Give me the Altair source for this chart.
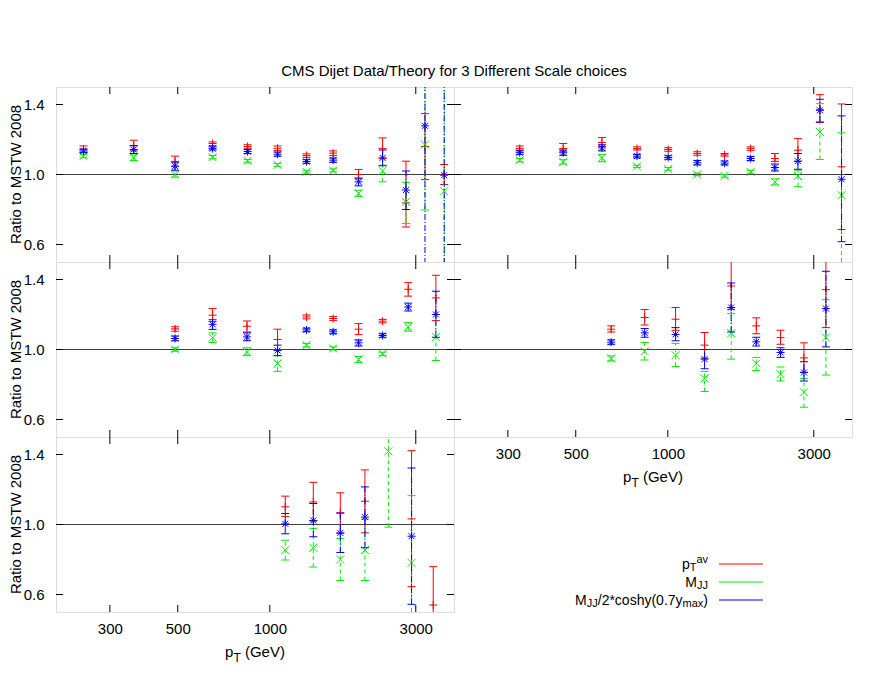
import altair as alt
import pandas as pd

FONT = "Liberation Sans"
W, H = 398, 175

TITLE = "CMS Dijet Data/Theory for 3 Different Scale choices"
Y_TITLE = "Ratio to MSTW 2008"
X_TICKS = [300, 500, 1000, 3000]
Y_TICKS = [0.6, 1.0, 1.4]
X_DOMAIN = [200, 4000]
Y_DOMAIN = [0.5, 1.5]

RED, GREEN, BLUE = "#ff0000", "#00ee00", "#0000ff"

# (value, low, high) per point; None = no point
TL_PT = [246, 359, 490, 650, 846, 1060, 1318, 1611, 1950, 2337, 2787, 3215, 3716]
TL_RED = [(1.145, 1.128, 1.163), (1.165, 1.135, 1.196), (1.075, 1.045, 1.105), (1.177, 1.165, 1.186),
          (1.160, 1.150, 1.170), (1.150, 1.138, 1.163), (1.108, 1.098, 1.118), (1.122, 1.108, 1.135),
          (1.000, 0.975, 1.029), (1.148, 1.090, 1.209), (0.838, 0.700, 1.076), (1.160, 0.971, 1.348),
          (1.000, 0.943, 1.057)]
TL_GREEN = [(1.105, 1.095, 1.115), (1.097, 1.080, 1.112), (1.000, 0.985, 1.020), (1.099, 1.090, 1.108),
            (1.078, 1.070, 1.086), (1.055, 1.047, 1.063), (1.015, 1.008, 1.022), (1.023, 1.015, 1.032),
            (0.892, 0.875, 0.910), (1.021, 0.958, 1.053), (0.844, 0.720, 0.955), (1.171, 0.797, 1.700),
            (0.905, 0.300, 1.700)]
TL_BLUE = [(1.135, 1.125, 1.145), (1.143, 1.120, 1.165), (1.048, 1.025, 1.070), (1.148, 1.140, 1.158),
           (1.131, 1.120, 1.142), (1.116, 1.105, 1.128), (1.074, 1.064, 1.085), (1.082, 1.070, 1.094),
           (0.958, 0.935, 0.980), (1.095, 1.050, 1.140), (0.911, 0.800, 1.020), (1.278, 0.300, 1.700),
           (0.996, 0.300, 1.700)]

TR_PT = [328, 455, 609, 793, 1003, 1248, 1533, 1865, 2239, 2663, 3141, 3697]
TR_RED = [(1.148, 1.138, 1.163), (1.148, 1.130, 1.177), (1.183, 1.160, 1.211), (1.148, 1.140, 1.158),
          (1.143, 1.133, 1.153), (1.120, 1.110, 1.130), (1.112, 1.105, 1.120), (1.148, 1.138, 1.158),
          (1.091, 1.075, 1.120), (1.139, 1.075, 1.205), (1.370, 1.297, 1.456), (1.044, 0.686, 1.403)]
TR_GREEN = [(1.082, 1.072, 1.092), (1.072, 1.060, 1.085), (1.095, 1.073, 1.115), (1.046, 1.040, 1.053),
            (1.032, 1.025, 1.040), (1.000, 0.993, 1.008), (0.992, 0.985, 1.000), (1.015, 1.007, 1.024),
            (0.958, 0.940, 0.975), (0.992, 0.930, 1.025), (1.243, 1.086, 1.405), (0.882, 0.300, 1.238)]
TR_BLUE = [(1.125, 1.115, 1.135), (1.124, 1.110, 1.140), (1.152, 1.135, 1.170), (1.105, 1.095, 1.115),
           (1.097, 1.087, 1.107), (1.067, 1.055, 1.080), (1.065, 1.055, 1.077), (1.091, 1.080, 1.102),
           (1.040, 1.020, 1.060), (1.076, 1.030, 1.120), (1.367, 1.300, 1.430), (0.973, 0.616, 1.335)]

ML_PT = [490, 650, 842, 1060, 1318, 1611, 1950, 2337, 2834, 3490]
ML_RED = [(1.118, 1.105, 1.130), (1.196, 1.160, 1.234), (1.133, 1.100, 1.163), (1.057, 1.000, 1.116),
          (1.186, 1.175, 1.197), (1.177, 1.165, 1.188), (1.116, 1.085, 1.148), (1.162, 1.152, 1.172),
          (1.344, 1.305, 1.382), (1.295, 1.165, 1.424)]
ML_GREEN = [(1.000, 0.990, 1.010), (1.067, 1.040, 1.095), (0.987, 0.965, 1.010), (0.920, 0.875, 0.965),
            (1.025, 1.015, 1.035), (1.006, 0.997, 1.015), (0.943, 0.925, 0.960), (0.975, 0.965, 0.985),
            (1.129, 1.105, 1.155), (1.072, 0.937, 1.200)]
ML_BLUE = [(1.063, 1.050, 1.077), (1.144, 1.115, 1.170), (1.072, 1.050, 1.095), (0.994, 0.965, 1.025),
           (1.112, 1.102, 1.122), (1.101, 1.090, 1.112), (1.038, 1.020, 1.055), (1.080, 1.070, 1.090),
           (1.243, 1.220, 1.265), (1.200, 1.070, 1.333)]

MR_PT = [653, 840, 1060, 1319, 1611, 1946, 2336, 2786, 3287]
MR_RED = [(1.116, 1.100, 1.135), (1.183, 1.140, 1.228), (1.173, 1.110, 1.240), (1.025, 0.950, 1.097),
          (1.363, 1.230, 1.600), (1.135, 1.090, 1.181), (1.068, 1.030, 1.110), (0.952, 0.870, 1.038),
          (1.342, 1.125, 1.600)]
MR_GREEN = [(0.949, 0.935, 0.963), (0.990, 0.940, 1.040), (0.968, 0.903, 1.035), (0.835, 0.760, 0.875),
            (1.093, 0.945, 1.205), (0.920, 0.880, 0.955), (0.859, 0.820, 0.900), (0.755, 0.670, 0.835),
            (1.068, 0.854, 1.285)]
MR_BLUE = [(1.042, 1.030, 1.055), (1.095, 1.070, 1.120), (1.086, 1.050, 1.125), (0.945, 0.890, 1.000),
           (1.240, 1.100, 1.380), (1.044, 1.020, 1.070), (0.983, 0.955, 1.010), (0.869, 0.820, 0.930),
           (1.234, 1.015, 1.447)]

BL_PT = [1123, 1387, 1700, 2046, 2440, 2906, 3421]
BL_RED = [(1.101, 1.046, 1.162), (1.129, 1.020, 1.241), (1.067, 0.950, 1.181), (1.133, 0.952, 1.312),
          None, (1.032, 0.645, 1.422), (0.540, 0.300, 0.759)]
BL_GREEN = [(0.854, 0.797, 0.910), (0.867, 0.757, 0.978), (0.800, 0.680, 0.920), (0.854, 0.680, 1.030),
            (1.418, 0.985, 1.700), (0.781, 0.300, 1.165), None]
BL_BLUE = [(1.004, 0.947, 1.063), (1.023, 0.930, 1.120), (0.952, 0.840, 1.065), (1.042, 0.867, 1.215),
           None, (0.933, 0.544, 1.323), None]

SHAPE_PLUS = "M-1,0L1,0M0,-1L0,1"
SHAPE_X = "M-1,-1L1,1M-1,1L1,-1"
SHAPE_STAR = "M-1,0L1,0M0,-1L0,1M-0.75,-0.75L0.75,0.75M-0.75,0.75L0.75,-0.75"
SHAPE_CAP = "M-1,0L1,0"

# Arial/Liberation Sans advance widths (per 1000 em) for rich text layout
ADV = {'p': 556, 'T': 611, 'a': 556, 'v': 500, 'M': 833, 'J': 500, '/': 278, '2': 556, '*': 389,
       'c': 500, 'o': 556, 's': 500, 'h': 556, 'y': 500, '(': 333, '0': 556, '.': 278, '7': 556,
       'm': 833, 'x': 500, ')': 333, ' ': 278, 'G': 778, 'e': 556, 'V': 667}


def tw(s, size):
    return sum(ADV.get(c, 556) for c in s) / 1000.0 * size


def rich(pieces, x_left, y_base):
    layers = []
    x = x_left
    for txt, size, dy in pieces:
        lead = len(txt) - len(txt.lstrip(" "))
        shown = txt.lstrip(" ")
        layers.append(
            alt.Chart(pd.DataFrame({"t": [shown]}))
            .mark_text(align="left", baseline="alphabetic", fontSize=size, font=FONT, color="black", dy=dy)
            .encode(text="t:N", x=alt.value(x + tw(" " * lead, size)), y=alt.value(y_base))
        )
        x += tw(txt, size)
    return layers


def total(pieces):
    return sum(tw(t, s) for t, s, _ in pieces)


XT_PIECES = [("p", 15, 0), ("T", 12, 5), (" (GeV)", 15, 0)]


def series_df(pt, vals):
    rows = [dict(pt=x, v=v[0], lo=v[1], hi=v[2]) for x, v in zip(pt, vals) if v is not None]
    return pd.DataFrame(rows)


def panel(pt, red, green, blue, ylab, xlab, title=False):
    xs = alt.Scale(type="log", domain=X_DOMAIN, nice=False)
    ys = alt.Scale(domain=Y_DOMAIN, nice=False, zero=False)
    if xlab:
        xax = alt.Axis(values=X_TICKS, format="d", ticks=False, tickSize=0, domain=False, grid=False,
                       title=None, labelFontSize=15, labelFont=FONT, labelColor="black",
                       labelPadding=21, labelBaseline="alphabetic")
    else:
        xax = None
    if ylab:
        yax = alt.Axis(values=Y_TICKS, format=".1f", ticks=False, tickSize=0, domain=False, grid=False,
                       title=None, labelFontSize=15, labelFont=FONT, labelColor="black",
                       labelPadding=12)
    else:
        yax = None

    def X(f):
        return alt.X(f, scale=xs, axis=xax)

    def Y(f):
        return alt.Y(f, scale=ys, axis=yax)

    layers = []
    layers.append(alt.Chart(pd.DataFrame({"v": [1.0]})).mark_rule(color="#404040", strokeWidth=1)
                  .encode(y=Y("v:Q")))
    yt = pd.DataFrame({"t": Y_TICKS})
    xt = pd.DataFrame({"t": X_TICKS})
    tk = dict(size=196, filled=False, color="black", strokeWidth=1, opacity=1)
    layers.append(alt.Chart(yt).mark_point(shape="M0,0L1,0", **tk).encode(y=Y("t:Q"), x=alt.value(0)))
    layers.append(alt.Chart(yt).mark_point(shape="M0,0L-1,0", **tk).encode(y=Y("t:Q"), x=alt.value(W)))
    layers.append(alt.Chart(xt).mark_point(shape="M0,0L0,1", **tk).encode(x=X("t:Q"), y=alt.value(0)))
    layers.append(alt.Chart(xt).mark_point(shape="M0,0L0,-1", **tk).encode(x=X("t:Q"), y=alt.value(H)))

    for vals, color, dash, shape in [(red, RED, None, SHAPE_PLUS), (green, GREEN, [4, 3], SHAPE_X),
                                     (blue, BLUE, [6, 2, 1, 2], SHAPE_STAR)]:
        df = series_df(pt, vals)
        rk = dict(color=color, strokeWidth=1, clip=True)
        if dash:
            rk["strokeDash"] = dash
        layers.append(alt.Chart(df).mark_rule(**rk).encode(x=X("pt:Q"), y=Y("lo:Q"), y2="hi:Q"))
        layers.append(alt.Chart(df).transform_fold(["lo", "hi"], as_=["k", "c"])
                      .mark_point(shape=SHAPE_CAP, size=64, filled=False, color=color, strokeWidth=1,
                                  opacity=1, clip=True)
                      .encode(x=X("pt:Q"), y=Y("c:Q")))
        layers.append(alt.Chart(df).mark_point(shape=shape, size=64, filled=False, color=color,
                                               strokeWidth=1, opacity=1, clip=True)
                      .encode(x=X("pt:Q"), y=Y("v:Q")))

    if ylab:
        layers.append(alt.Chart(pd.DataFrame({"t": [Y_TITLE]}))
                      .mark_text(angle=270, fontSize=15, font=FONT, color="black", baseline="middle",
                                 align="center")
                      .encode(text="t:N", x=alt.value(-40), y=alt.value(H / 2)))
    if xlab:
        layers += rich(XT_PIECES, W / 2 - total(XT_PIECES) / 2, H + 45)
    if title:
        layers.append(alt.Chart(pd.DataFrame({"t": [TITLE]}))
                      .mark_text(fontSize=15, font=FONT, color="black", baseline="middle", align="center")
                      .encode(text="t:N", x=alt.value(W), y=alt.value(-16)))
    return alt.layer(*layers).properties(width=W, height=H)


LEG_ROWS = [
    ([("p", 14, 0), ("T", 11, 2), ("av", 11, -6)], RED, 127),
    ([("M", 14, 0), ("JJ", 11, 2)], GREEN, 145),
    ([("M", 14, 0), ("JJ", 11, 2), ("/2*coshy(0.7y", 14, 0), ("max", 11, 2), (")", 14, 0)], BLUE, 163),
]


def legend():
    layers = []
    for pieces, color, y in LEG_ROWS:
        layers += rich(pieces, 254 - total(pieces), y + 5)
        layers.append(alt.Chart(pd.DataFrame({"a": [0]})).mark_rule(color=color, strokeWidth=1)
                      .encode(x=alt.value(265), x2=alt.value(309), y=alt.value(y)))
    return alt.layer(*layers).properties(width=W, height=H, view=alt.ViewBackground(stroke="transparent"))


TL = panel(TL_PT, TL_RED, TL_GREEN, TL_BLUE, True, False, title=True)
TR = panel(TR_PT, TR_RED, TR_GREEN, TR_BLUE, False, False)
ML = panel(ML_PT, ML_RED, ML_GREEN, ML_BLUE, True, False)
MR = panel(MR_PT, MR_RED, MR_GREEN, MR_BLUE, False, True)
BL = panel(BL_PT, BL_RED, BL_GREEN, BL_BLUE, True, True)
LEG = legend()

chart = (
    alt.concat(TL, TR, ML, MR, BL, LEG, columns=2, spacing=0, bounds="flush")
    .properties(padding={"left": 0, "top": 55, "right": 5, "bottom": 5})
    .configure_view(stroke="black", strokeWidth=1.5)
    .configure(font=FONT)
)

chart.save("out.html", embed_options={"renderer": "svg", "actions": False})
